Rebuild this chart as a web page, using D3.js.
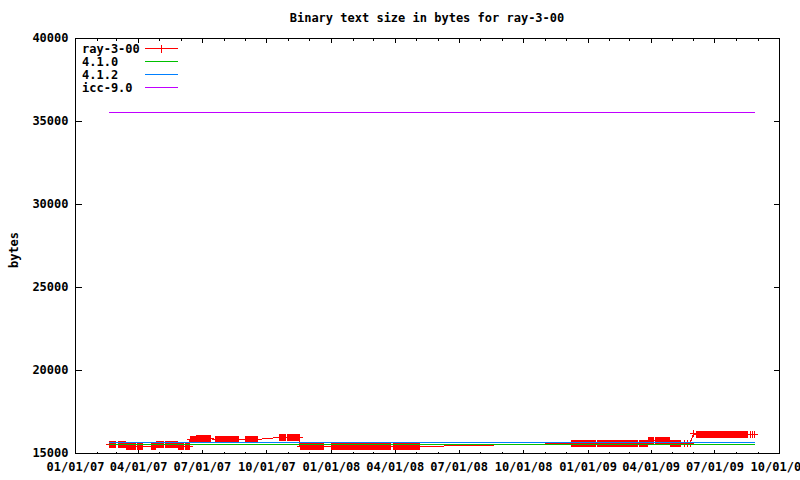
<!DOCTYPE html>
<html><head><meta charset="utf-8">
<script src="https://cdn.jsdelivr.net/npm/d3@7"></script>
<style>
body{margin:0;background:#fff}
text{font-family:"DejaVu Sans Mono",monospace;font-weight:bold;font-size:12px;fill:#000}
</style>
</head><body>
<svg id="chart" width="800" height="480"></svg>
<script>
const chartTitle = "Binary text size in bytes for ray-3-00";
const yLabel = "bytes";
const seriesNames = ["ray-3-00", "4.1.0", "4.1.2", "icc-9.0"];
const seriesColors = ["#ff0000", "#00c000", "#0080ff", "#c000ff"];
const yTicks = [15000, 20000, 25000, 30000, 35000, 40000];
const xTickDates = ["2007-01-01","2007-04-01","2007-07-01","2007-10-01","2008-01-01","2008-04-01","2008-07-01","2008-10-01","2009-01-01","2009-04-01","2009-07-01","2009-10-01"];

// ray-3-00: daily builds, stored as runs of identical size (start day, end day, bytes)
const rayRunStart = ["2007-02-18","2007-03-04","2007-03-15","2007-03-30","2007-04-19","2007-04-26","2007-05-09","2007-05-28","2007-06-07","2007-06-14","2007-06-23","2007-07-20","2007-09-01","2007-10-19","2007-10-30","2007-11-18","2008-01-01","2008-03-29","2008-12-08","2009-01-15","2009-03-15","2009-03-28","2009-04-07","2009-04-18","2009-04-23","2009-04-28","2009-05-18","2009-05-23","2009-05-27","2009-06-01","2009-06-05","2009-08-21","2009-08-24","2009-08-27"];
const rayRunEnd = ["2007-02-27","2007-03-14","2007-03-28","2007-04-07","2007-04-25","2007-05-07","2007-05-27","2007-06-04","2007-06-13","2007-06-21","2007-07-13","2007-08-22","2007-09-17","2007-10-28","2007-11-17","2007-12-21","2008-03-25","2008-05-05","2009-01-12","2009-03-13","2009-03-27","2009-04-05","2009-04-17","2009-04-21","2009-04-27","2009-05-13","2009-05-18","2009-05-23","2009-05-27","2009-06-01","2009-08-17","2009-08-21","2009-08-24","2009-08-27"];
const rayRunValue = [15524,15524,15434,15434,15434,15524,15524,15434,15434,15855,15892,15843,15843,15946,15946,15404,15404,15404,15584,15584,15584,15783,15783,15783,15783,15584,15584,15584,15584,16223,16145,16145,16145,16145];

const gcc410Dates = ["2007-02-18", "2009-08-28"];
const gcc410Values = [15524, 15524];
const gcc412Dates = ["2007-02-18", "2009-08-28"];
const gcc412Values = [15645, 15645];
const icc90Dates = ["2007-02-18", "2009-08-28"];
const icc90Values = [35540, 35540];

const parse = d3.utcParse("%Y-%m-%d");
const svg = d3.select("#chart");
const L = 75, R = 779, T = 38, B = 453;
const x = d3.scaleUtc().domain([parse(xTickDates[0]), parse(xTickDates[xTickDates.length-1])]).range([L, R]);
const y = d3.scaleLinear().domain([15000, 40000]).range([B, T]);
const py = v => Math.round(y(v)) + 0.5;

// ray points
const rayPoints = [];
rayRunStart.forEach((s, i) => {
  d3.utcDay.range(parse(s), d3.utcDay.offset(parse(rayRunEnd[i]), 1)).forEach(d => rayPoints.push({d, v: rayRunValue[i]}));
});
const toPts = (ds, vs) => ds.map((d, i) => ({d: parse(d), v: vs[i]}));
const others = [toPts(gcc410Dates, gcc410Values), toPts(gcc412Dates, gcc412Values), toPts(icc90Dates, icc90Values)];

const line = d3.line().x(p => x(p.d)).y(p => py(p.v));
const plot = svg.append("g");

// ray-3-00 line + crosses
plot.append("path").datum(rayPoints).attr("d", line).attr("fill", "none")
  .attr("stroke", seriesColors[0]).attr("stroke-width", 1).attr("shape-rendering", "crispEdges");
const cross = (cx, cy, s) => `M${cx - s},${cy}H${cx + s}M${cx},${cy - s}V${cy + s}`;
plot.append("path")
  .attr("d", rayPoints.map(p => cross(Math.round(x(p.d)) + 0.5, py(p.v), 3.5)).join(""))
  .attr("fill", "none").attr("stroke", seriesColors[0]).attr("stroke-width", 1).attr("shape-rendering", "crispEdges");

others.forEach((pts, i) => {
  plot.append("path").datum(pts).attr("d", line).attr("fill", "none")
    .attr("stroke", seriesColors[i + 1]).attr("stroke-width", 1).attr("shape-rendering", "crispEdges");
});

// axes
const majorX = xTickDates.map(parse);
const minorX = d3.utcMonth.range(parse(xTickDates[0]), parse(xTickDates[xTickDates.length-1])).filter(d => d.getUTCMonth() % 3 !== 0);
const fmt = d3.utcFormat("%m/%d/%y");
function styleAxis(g) {
  g.select(".domain").remove();
  g.selectAll("line").attr("stroke", "#000").attr("shape-rendering", "crispEdges");
  g.selectAll("text").attr("font-family", null).attr("font-size", null);
  g.attr("font-family", null).attr("font-size", null);
}
svg.append("g").attr("transform", `translate(0,${B + 0.5})`)
  .call(d3.axisBottom(x).tickValues(majorX).tickFormat(fmt).tickSize(-4).tickPadding(9)).call(styleAxis);
svg.append("g").attr("transform", `translate(0,${B + 0.5})`)
  .call(d3.axisBottom(x).tickValues(minorX).tickFormat("").tickSize(-2)).call(styleAxis);
svg.append("g").attr("transform", `translate(0,${T + 0.5})`)
  .call(d3.axisTop(x).tickValues(majorX).tickFormat("").tickSize(-4)).call(styleAxis);
svg.append("g").attr("transform", `translate(0,${T + 0.5})`)
  .call(d3.axisTop(x).tickValues(minorX).tickFormat("").tickSize(-2)).call(styleAxis);
svg.append("g").attr("transform", `translate(${L + 0.5},0)`)
  .call(d3.axisLeft(y).tickValues(yTicks).tickFormat(d3.format("d")).tickSize(-6).tickPadding(7)).call(styleAxis);
svg.append("g").attr("transform", `translate(${R + 0.5},0)`)
  .call(d3.axisRight(y).tickValues(yTicks).tickFormat("").tickSize(-6)).call(styleAxis);

// frame
svg.append("rect").attr("x", L + 0.5).attr("y", T + 0.5).attr("width", R - L).attr("height", B - T)
  .attr("fill", "none").attr("stroke", "#000").attr("shape-rendering", "crispEdges");

// title & y label
svg.append("text").attr("x", (L + R) / 2).attr("y", 22).attr("text-anchor", "middle").text(chartTitle);
svg.append("text").attr("transform", "translate(14,250) rotate(-90)").attr("text-anchor", "middle").attr("dy", "0.35em").text(yLabel);

// legend
const key = svg.append("g");
seriesNames.forEach((n, i) => {
  const ky = 48.5 + i * 13;
  key.append("text").attr("x", 82).attr("y", ky).attr("dy", "0.35em").text(n);
  key.append("line").attr("x1", 145).attr("x2", 178).attr("y1", ky).attr("y2", ky)
    .attr("stroke", seriesColors[i]).attr("shape-rendering", "crispEdges");
  if (i === 0) key.append("path").attr("d", cross(161.5, ky, 4)).attr("stroke", seriesColors[0]).attr("shape-rendering", "crispEdges");
});
</script>
</body></html>
